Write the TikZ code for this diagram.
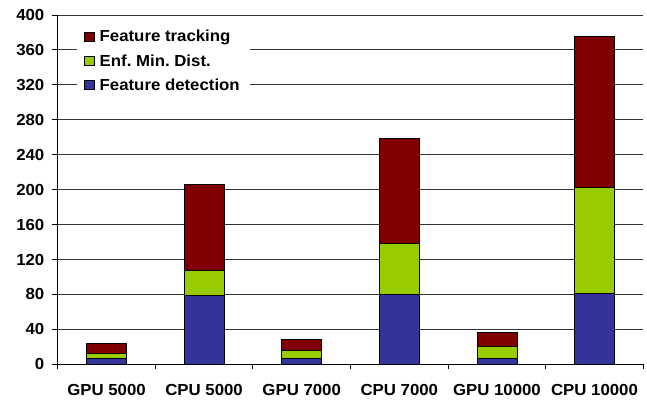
\documentclass[tikz,border=0pt]{standalone}
\usepackage{fontspec}
\setmainfont{Liberation Sans}[FakeStretch=1.05]
\definecolor{track}{HTML}{800000}
\definecolor{enf}{HTML}{99CC00}
\definecolor{det}{HTML}{333399}
\frenchspacing
\begin{document}
\begin{tikzpicture}[x=1pt,y=1pt,
  lab/.style={font=\fontsize{16}{19}\selectfont\bfseries, inner sep=0pt},
  gridline/.style={draw=black!80, line width=0.9pt},
  axisline/.style={draw=black, line width=0.9pt},
  seg/.style={draw=black, line width=0.8pt},
  legsq/.style={draw=black, line width=0.6pt, minimum size=9.5pt, inner sep=0pt}]
\useasboundingbox (0,0) rectangle (647,399);
\def\yz{34.7}
\def\ys{0.8733}
% gridlines
\foreach \v in {40,80,...,400}
  \draw[gridline] (57.7,{\yz+\ys*\v}) -- (643.3,{\yz+\ys*\v});
% y tick labels and ticks
\foreach \v in {0,40,...,400}{
  \draw[axisline] (51.5,{\yz+\ys*\v}) -- (57.7,{\yz+\ys*\v});
  \node[lab, anchor=east] (y\v) at (44.5,{\yz+\ys*\v}) {\v};
}
% axes
\draw[axisline] (57.7,\yz) -- (57.7,{\yz+\ys*400});
\draw[axisline] (57.7,\yz) -- (643.3,\yz);
\foreach \i in {0,...,6}
  \draw[axisline] ({57.7+97.6*\i},\yz) -- ({57.7+97.6*\i},{\yz-5});
% bars
\foreach \name/\a/\b/\t [count=\i] in
  {GPU 5000/6.4/12.1/24,
   CPU 5000/78.6/107.7/206.5,
   GPU 7000/6.4/16/28.6,
   CPU 7000/79.7/139/259,
   GPU 10000/6.4/21/36.7,
   CPU 10000/81.7/202.3/375.7}{
  \pgfmathsetmacro{\cx}{57.7+97.6*(\i-0.5)}
  \draw[seg, fill=det] ({\cx-20},\yz) rectangle ({\cx+20},{\yz+\ys*\a});
  \draw[seg, fill=enf] ({\cx-20},{\yz+\ys*\a}) rectangle ({\cx+20},{\yz+\ys*\b});
  \draw[seg, fill=track] ({\cx-20},{\yz+\ys*\b}) rectangle ({\cx+20},{\yz+\ys*\t});
  \node[lab] (x\i) at (\cx,9.5) {\name};
}
% legend
\fill[white] (77,299) rectangle (250,377);
\node[legsq, fill=track] (sq1) at (89.3,362) {};
\node[legsq, fill=enf] (sq2) at (89.3,338) {};
\node[legsq, fill=det] (sq3) at (89.3,314) {};
\node[lab, anchor=west] (l1) at (99.5,362) {Feature tracking};
\node[lab, anchor=west] (l2) at (99.5,338) {Enf. Min. Dist.};
\node[lab, anchor=west] (l3) at (99.5,314) {Feature detection};
\end{tikzpicture}
\end{document}
